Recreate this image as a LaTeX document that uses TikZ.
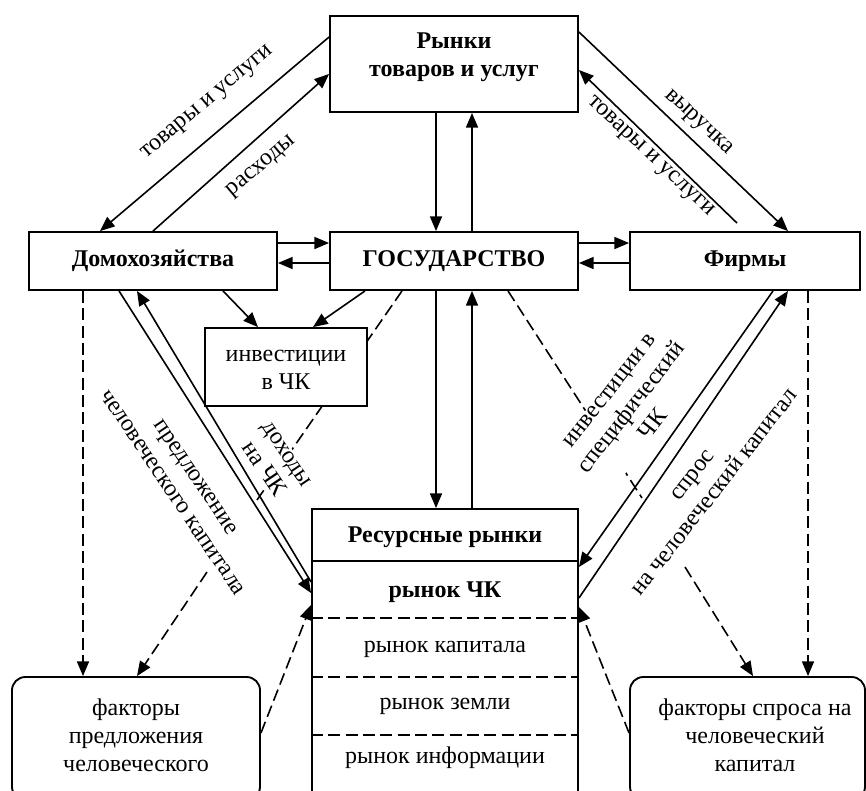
\documentclass[tikz,border=0pt]{standalone}
\usepackage{fontspec}
\setmainfont{Liberation Serif}
\usetikzlibrary{arrows.meta,fit,calc}
\pgfdeclarelayer{bg}
\pgfsetlayers{bg,main}
\begin{document}
\begin{tikzpicture}[x=0.75pt,y=-0.75pt,
  box/.style={draw,line width=1.4pt,inner sep=0pt,fill=white},
  rbox/.style={box,rounded corners=10pt},
  txt/.style={font=\fontsize{18}{21}\selectfont,align=center,inner sep=0pt},
  btxt/.style={txt,font=\fontsize{18}{21}\selectfont\bfseries},
  lbl/.style={txt,inner sep=1pt},
  lblw/.style={lbl,fill=white},
  plain/.style={line width=1.2pt},
  flow/.style={plain,-{Triangle[length=11pt,width=9pt]}},
  dline/.style={plain,dash pattern=on 9pt off 4pt},
  dflow/.style={flow,dash pattern=on 9pt off 4pt},
  sep/.style={line width=1.4pt},
  dsep/.style={sep,dash pattern=on 9pt off 4pt}
]
\useasboundingbox (0,0) rectangle (866,790);
\clip (0,0) rectangle (866,790);

% main boxes
\node[box,fit={(330,16) (578,112)}] (top) {};
\node[btxt] (toptxt) at (454,57) {Рынки\\товаров и услуг};
\node[box,fit={(29,232) (277,290)}] (hh) {};
\node[btxt,anchor=base] (hhtxt) at (153,266) {Домохозяйства};
\node[box,fit={(330,232) (578,290)}] (gov) {};
\node[btxt,anchor=base] (govtxt) at (454,266) {ГОСУДАРСТВО};
\node[box,fit={(630,232) (860,290)}] (firm) {};
\node[btxt,anchor=base] (firmtxt) at (745,266) {Фирмы};
\node[box,fit={(205,328) (367,406)}] (inv) {};
\node[txt] (invtxt) at (286,370) {инвестиции\\в ЧК};

% resource markets
\node[box,fit={(312,509) (578,800)}] (res) {};
\draw[sep] (res.west |- 0,561) -- (res.east |- 0,561);
\draw[dsep] (res.west |- 0,618) -- (res.east |- 0,618);
\draw[dsep] (res.west |- 0,677) -- (res.east |- 0,677);
\draw[dsep] (res.west |- 0,735) -- (res.east |- 0,735);
\node[btxt,anchor=base] (r0) at (445,542) {Ресурсные рынки};
\node[btxt,anchor=base] (r1) at (445,597) {рынок ЧК};
\node[txt,anchor=base] (r2) at (445,652) {рынок капитала};
\node[txt,anchor=base] (r3) at (445,709) {рынок земли};
\node[txt,anchor=base] (r4) at (445,763) {рынок информации};

% factor boxes
\node[rbox,fit={(12,677) (260,800)}] (lf) {};
\node[txt] (lftxt) at (136,735) {факторы\\предложения\\человеческого};
\node[rbox,fit={(630,677) (865,800)}] (rf) {};
\node[txt] (rftxt) at (755,735) {факторы спроса на\\человеческий\\капитал};

% free ends
\coordinate (hhres) at (257,500);
\coordinate (firmres) at (642,498);
\coordinate (supl) at (207,572);
\coordinate (dem) at (685,567);

% state's links to human capital flows
\begin{pgfonlayer}{bg}
\draw[dline] (402,0 |- gov.south) -- (hhres);
\draw[dline] (508,0 |- gov.south) -- (firmres);
\end{pgfonlayer}

% flow labels
\node[lbl,rotate=40] (l1) at (208,103) {товары и услуги};
\node[lbl,rotate=40] (l2) at (262,167) {расходы};
\node[lbl,rotate=-43] (l3) at (698,123) {выручка};
\node[lbl,rotate=-43] (l4) at (650,157) {товары и услуги};
\node[lblw,rotate=52] (l5) at (632,408) {инвестиции в\\специфический\\ЧК};
\node[lbl,rotate=52] (l6) at (704,484) {спрос\\на человеческий капитал};
\node[lblw,rotate=-56] (l7) at (275,462) {доходы\\на ЧК};
\node[lbl,rotate=-56] (l8) at (184,485) {предложение\\человеческого капитала};

% goods market flows
\draw[flow] (top.west |- 0,37) -- (100,0 |- hh.north);
\draw[flow] (153,0 |- hh.north) -- (top.west |- 0,74);
\draw[flow] (top.east |- 0,32) -- (788,0 |- firm.north);
\draw[flow] ($(737,0 |- firm.north)+(0,-8)$) -- (top.east |- 0,70);
\draw[flow] (436,0 |- top.south) -- (436,0 |- gov.north);
\draw[flow] (472,0 |- gov.north) -- (472,0 |- top.south);

% state links
\draw[flow] (hh.east |- 0,243) -- (gov.west |- 0,243);
\draw[flow] (gov.west |- 0,263) -- (hh.east |- 0,263);
\draw[flow] (gov.east |- 0,243) -- (firm.west |- 0,243);
\draw[flow] (firm.west |- 0,263) -- (gov.east |- 0,263);
\draw[flow] (223,0 |- hh.south) -- (258,0 |- inv.north);
\draw[flow] (365,0 |- gov.south) -- (313,0 |- inv.north);
\draw[flow] (436,0 |- gov.south) -- (436,0 |- res.north);
\draw[flow] (472,0 |- res.north) -- (472,0 |- gov.south);

% human capital market flows
\draw[flow] (119,0 |- hh.south) -- (res.west |- 0,593);
\draw[flow] (res.west |- 0,582) -- (137,0 |- hh.south);
\draw[flow] (773,0 |- firm.south) -- (res.east |- 0,567);
\draw[flow] (res.east |- 0,598) -- (788,0 |- firm.south);

% factor links
\draw[dflow] (83,0 |- hh.south) -- (83,0 |- lf.north);
\draw[dflow] (808,0 |- firm.south) -- (808,0 |- rf.north);
\draw[dflow] (lf.east |- 0,733) -- (res.west |- 0,605);
\draw[dflow] (rf.west |- 0,733) -- (res.east |- 0,607);
\draw[dflow] (supl) -- (137,0 |- lf.north);
\draw[dflow] (dem) -- (753,0 |- rf.north);
\end{tikzpicture}
\end{document}
